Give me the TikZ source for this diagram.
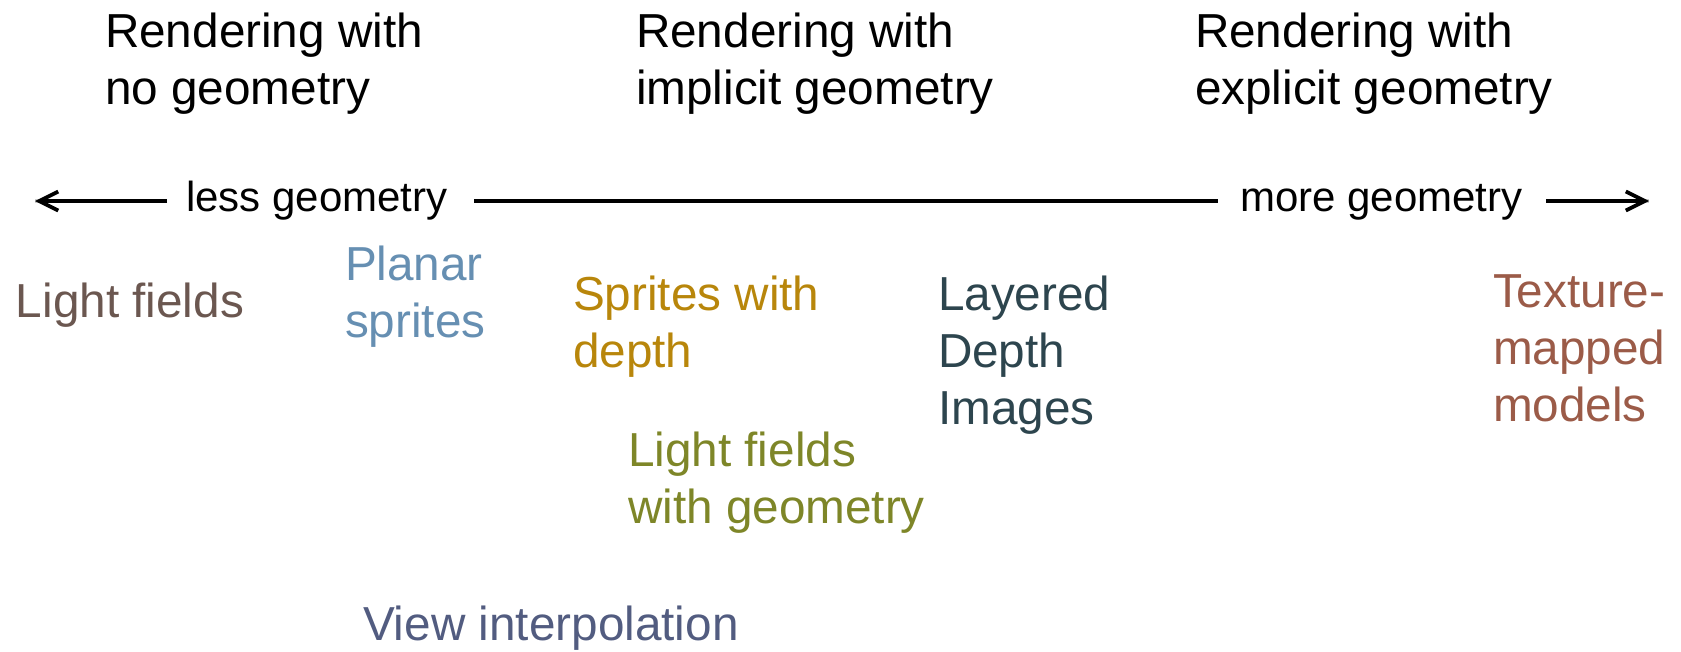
\documentclass[tikz,border=0pt]{standalone}
\usepackage{fontspec}
\setmainfont{Liberation Sans}
\usetikzlibrary{arrows.meta}
\definecolor{cLF}{RGB}{107,87,80}
\definecolor{cPS}{RGB}{102,143,178}
\definecolor{cSD}{RGB}{184,134,11}
\definecolor{cLDI}{RGB}{45,69,78}
\definecolor{cLFG}{RGB}{126,134,40}
\definecolor{cTM}{RGB}{155,91,72}
\definecolor{cVI}{RGB}{82,92,128}
\tikzset{
  lbl/.style={inner sep=0pt, anchor=text, align=left, font=\fontsize{47.7pt}{57pt}\selectfont},
  axlbl/.style={inner sep=0pt, anchor=base west, font=\fontsize{42pt}{50pt}\selectfont},
  axline/.style={line width=3.8pt, black},
  axshadow/.style={line width=3.8pt, black!20},
  tip/.style={-{Straight Barb[length=19pt,width=19pt,line width=3.8pt]}}
}
\begin{document}
\begin{tikzpicture}[x=1pt,y=-1pt]
\useasboundingbox (0,0) rectangle (1681,651);
% headings (anchor = baseline of last line)
\node[lbl] (h1) at (105,104) {Rendering with\\no geometry};
\node[lbl] (h2) at (636,104) {Rendering with\\implicit geometry};
\node[lbl] (h3) at (1195,104) {Rendering with\\explicit geometry};
% axis
\node[axlbl] (less) at (186,211.5) {less geometry};
\node[axlbl] (more) at (1240,211.5) {more geometry};
\coordinate (lt) at (35,201);
\coordinate (la) at (167,201);
\coordinate (ma) at (474,201);
\coordinate (mb) at (1218,201);
\coordinate (ra) at (1546,201);
\coordinate (rt) at (1649,201);
\begin{scope}[shift={(2,3)}]
\draw[axshadow] (la) -- (lt);
\draw[axshadow] (ma) -- (mb);
\draw[axshadow] (ra) -- (rt);
\end{scope}
\draw[axline,tip] (la) -- (lt);
\draw[axline] (ma) -- (mb);
\draw[axline,tip] (ra) -- (rt);
% items
\node[lbl,text=cLF] (lf) at (16,317) {Light fields};
\node[lbl,text=cPS] (ps) at (345,337) {Planar\\sprites};
\node[lbl,text=cSD] (sd) at (573,367) {Sprites with\\depth};
\node[lbl,text=cLDI] (ldi) at (938,424) {Layered\\Depth\\Images};
\node[lbl,text=cTM] (tm) at (1493,421) {Texture-\\mapped\\models};
\node[lbl,text=cLFG] (lfg) at (628,523) {Light fields\\with geometry};
\node[lbl,text=cVI] (vi) at (363,640) {View interpolation};
\end{tikzpicture}
\end{document}
